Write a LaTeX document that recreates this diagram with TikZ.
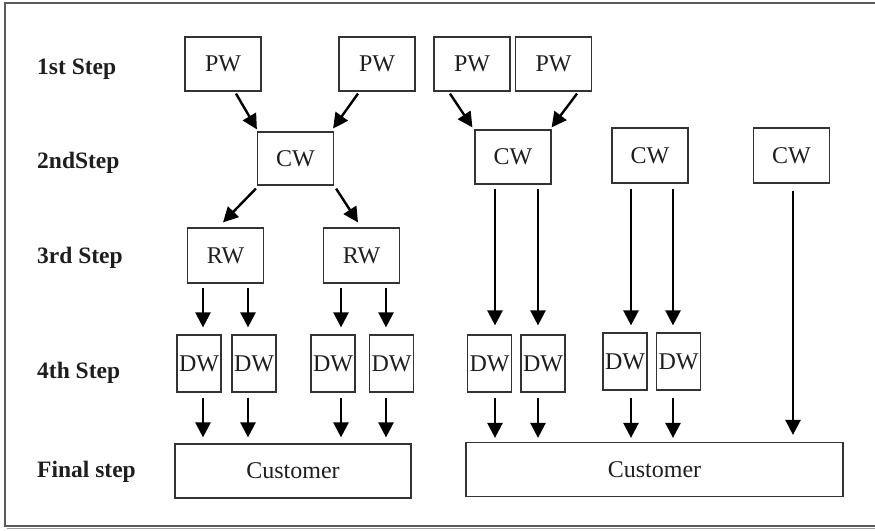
\documentclass[tikz,border=0pt]{standalone}
\usepackage{fontspec}
\setmainfont{Liberation Serif}
\usetikzlibrary{arrows.meta,calc}
\definecolor{boxline}{HTML}{333333}
\definecolor{frameline}{HTML}{5A5A5A}
\definecolor{txt}{HTML}{1E1E1E}
\begin{document}
\begin{tikzpicture}[x=1pt,y=-1pt,
  box/.style={draw=boxline,line width=1.2pt,inner sep=0pt,text=txt,
    font=\fontsize{24}{28}\selectfont},
  wbox/.style={box,minimum width=76pt,minimum height=54pt},
  dbox/.style={box,minimum width=44pt,minimum height=57pt},
  cbox/.style={box,minimum height=54pt},
  steplabel/.style={anchor=base west,inner sep=0pt,text=txt,
    font=\fontsize{23.5}{27}\selectfont\bfseries},
  arr/.style={line width=2.4pt,draw=black,-{Triangle[length=15pt,width=15pt]}}]
\useasboundingbox (0,0) rectangle (875,530);
\draw[frameline,line width=1.6pt] (880,3) -- (5,3) -- (5,526) -- (880,526);
\draw[frameline!60,line width=1pt] (7,528) -- (880,528);
% labels
\node[steplabel] (L1) at (37,74) {1st Step};
\node[steplabel] (L2) at (37,168) {2ndStep};
\node[steplabel] (L3) at (37,263) {3rd Step};
\node[steplabel] (L4) at (37,378) {4th Step};
\node[steplabel] (L5) at (37,477) {Final step};
% step 1
\node[wbox] (PW1) at (223,64) {PW};
\node[wbox] (PW2) at (377,64) {PW};
\node[wbox] (PW3) at (472,64) {PW};
\node[wbox] (PW4) at (553.5,64) {PW};
% step 2
\node[wbox,minimum height=53pt] (CW1) at (295.5,158.5) {CW};
\node[wbox] (CW2) at (513,157) {CW};
\node[wbox,minimum height=55pt] (CW3) at (650,155.5) {CW};
\node[wbox,minimum height=55pt] (CW4) at (791.5,155.5) {CW};
% step 3
\node[wbox,minimum height=55pt] (RW1) at (225.5,255.5) {RW};
\node[wbox,minimum height=55pt] (RW2) at (361.5,255.5) {RW};
% step 4
\node[dbox] (DW1) at (199,363.5) {DW};
\node[dbox] (DW2) at (254,363.5) {DW};
\node[dbox] (DW3) at (333,363.5) {DW};
\node[dbox] (DW4) at (391.5,363.5) {DW};
\node[dbox] (DW5) at (489.5,363.5) {DW};
\node[dbox] (DW6) at (543,363.5) {DW};
\node[dbox] (DW7) at (625,361.5) {DW};
\node[dbox] (DW8) at (678.5,361.5) {DW};
% final
\node[cbox,minimum width=236pt] (C1) at (293,471) {Customer};
\node[cbox,minimum width=377pt] (C2) at (654.5,469.5) {Customer};
% arrows step1 -> step2
\draw[arr] ($(PW1.south)+(13,2)$) -- ($(CW1.north west)+(0,-2)$);
\draw[arr] ($(PW2.south)+(-19,2)$) -- ($(CW1.north east)+(-1,-3)$);
\draw[arr] ($(PW3.south)+(-22,2)$) -- ($(CW2.north west)+(-2,-2)$);
\draw[arr] ($(PW4.south)+(23.5,2)$) -- ($(CW2.north east)+(0,-2)$);
% step2 -> step3
\draw[arr] ($(CW1.south west)+(-1,3)$) -- ($(RW1.north)+(-2.5,-5)$);
\draw[arr] ($(CW1.south east)+(2,3)$) -- ($(RW2.north)+(-3.5,-5)$);
% step2 -> step4
\draw[arr] ($(CW2.south)+(-18,4)$) -- ($(DW5.north)+(5.5,-9)$);
\draw[arr] ($(CW2.south)+(25,4)$) -- ($(DW6.north)+(-5,-9)$);
\draw[arr] ($(CW3.south)+(-19,5)$) -- ($(DW7.north)+(6,-7)$);
\draw[arr] ($(CW3.south)+(23,5)$) -- ($(DW8.north)+(-5.5,-7)$);
% step2 -> final
\draw[arr] ($(CW4.south)+(1.5,7)$) -- ($(C2.north)+(138.5,-7)$);
% step3 -> step4
\draw[arr] ($(RW1.south)+(-22.5,4)$) -- ($(DW1.north)+(4,-7)$);
\draw[arr] ($(RW1.south)+(22.5,4)$) -- ($(DW2.north)+(-6,-7)$);
\draw[arr] ($(RW2.south)+(-20.5,4)$) -- ($(DW3.north)+(8,-7)$);
\draw[arr] ($(RW2.south)+(24.5,4)$) -- ($(DW4.north)+(-5.5,-7)$);
% step4 -> final
\draw[arr] ($(DW1.south)+(4,5)$) -- ($(C1.north)+(-90,-6)$);
\draw[arr] ($(DW2.south)+(-6,5)$) -- ($(C1.north)+(-45,-6)$);
\draw[arr] ($(DW3.south)+(8,5)$) -- ($(C1.north)+(48,-6)$);
\draw[arr] ($(DW4.south)+(-5.5,5)$) -- ($(C1.north)+(93,-6)$);
\draw[arr] ($(DW5.south)+(5.5,5)$) -- ($(C2.north)+(-159.5,-4)$);
\draw[arr] ($(DW6.south)+(-5,5)$) -- ($(C2.north)+(-116.5,-4)$);
\draw[arr] ($(DW7.south)+(6,7)$) -- ($(C2.north)+(-23.5,-4)$);
\draw[arr] ($(DW8.south)+(-5.5,7)$) -- ($(C2.north)+(18.5,-4)$);
\end{tikzpicture}
\end{document}
